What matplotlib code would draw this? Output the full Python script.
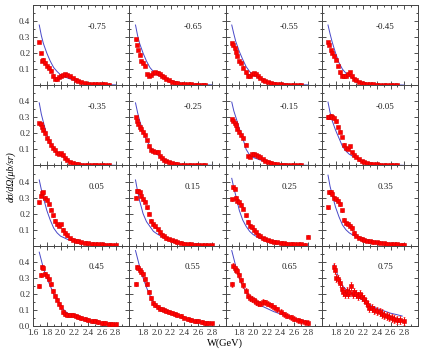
import matplotlib
matplotlib.use("Agg")
import matplotlib.pyplot as plt
from matplotlib.ticker import MultipleLocator

plt.rcParams['font.family'] = ['Liberation Serif', 'DejaVu Serif']

# ---- angle bins (cos theta), one per panel, row by row ----
cos_bins = ['-0.75', '-0.65', '-0.55', '-0.45',
            '-0.35', '-0.25', '-0.15', '-0.05',
            '0.05', '0.15', '0.25', '0.35',
            '0.45', '0.55', '0.65', '0.75']

# ---- W grids (GeV) ----
w_data_a = [1.69, 1.71, 1.73, 1.75, 1.77, 1.80, 1.83, 1.86, 1.89, 1.92, 1.95, 1.98, 2.01, 2.04, 2.07,
            2.10, 2.14, 2.18, 2.22, 2.26, 2.30, 2.35, 2.40, 2.45, 2.50, 2.55, 2.60, 2.65, 2.70]
w_data_b = w_data_a + [2.75, 2.80]
w_data_c = [1.77, 1.79, 1.81, 1.84, 1.86, 1.89, 1.91, 1.94, 1.96, 1.98, 2.00, 2.02, 2.05, 2.07, 2.10,
            2.12, 2.15, 2.19, 2.22, 2.24, 2.27, 2.29, 2.33, 2.36, 2.40, 2.44, 2.48, 2.51, 2.55, 2.58,
            2.62, 2.65, 2.69, 2.73, 2.79]
w_theory = [1.69, 1.72, 1.75, 1.80, 1.85, 1.90, 1.95, 2.00, 2.10, 2.20, 2.30, 2.40, 2.50, 2.60, 2.70, 2.80]
w_theory_c = [1.77, 1.79, 1.85, 1.90, 2.00, 2.10, 2.20, 2.30, 2.40, 2.50, 2.60, 2.70, 2.77]

# ---- measured dsigma/dOmega (mub/sr) ----
d_m75 = [0.27, 0.20, 0.15, 0.16, 0.14, 0.12, 0.11, 0.09, 0.06, 0.04, 0.04, 0.05, 0.06, 0.065, 0.07,
         0.065, 0.055, 0.045, 0.035, 0.026, 0.02, 0.014, 0.01, 0.008, 0.007, 0.006, 0.005, 0.005, 0.004]
d_m65 = [0.285, 0.25, 0.22, 0.19, 0.15, 0.14, 0.12, 0.07, 0.06, 0.065, 0.075, 0.083, 0.078, 0.07, 0.06,
         0.05, 0.04, 0.03, 0.022, 0.016, 0.012, 0.008, 0.006, 0.005, 0.005, 0.004, 0.004, 0.003, 0.003]
d_m55 = [0.26, 0.25, 0.23, 0.21, 0.18, 0.15, 0.14, 0.11, 0.08, 0.06, 0.06, 0.07, 0.077, 0.068, 0.057,
         0.046, 0.035, 0.027, 0.02, 0.014, 0.01, 0.007, 0.005, 0.004, 0.004, 0.003, 0.003, 0.003, 0.002]
d_m45 = [0.27, 0.25, 0.22, 0.20, 0.18, 0.16, 0.12, 0.08, 0.06, 0.055, 0.06, 0.07, 0.08, 0.055, 0.04,
         0.03, 0.022, 0.015, 0.01, 0.008, 0.006, 0.005, 0.004, 0.003, 0.003, 0.002, 0.002, 0.002, 0.002]
d_m35 = [0.265, 0.26, 0.24, 0.22, 0.20, 0.17, 0.15, 0.13, 0.11, 0.094, 0.08, 0.072, 0.077, 0.065, 0.048,
         0.035, 0.022, 0.013, 0.009, 0.007, 0.005, 0.004, 0.004, 0.003, 0.003, 0.003, 0.002, 0.002, 0.002]
d_m25 = [0.30, 0.28, 0.26, 0.24, 0.225, 0.21, 0.19, 0.16, 0.12, 0.095, 0.088, 0.083, 0.087, 0.06, 0.045,
         0.035, 0.026, 0.019, 0.014, 0.01, 0.007, 0.005, 0.004, 0.003, 0.003, 0.003, 0.002, 0.002, 0.002]
d_m15 = [0.29, 0.28, 0.265, 0.25, 0.23, 0.21, 0.19, 0.17, 0.13, 0.06, 0.055, 0.07, 0.07, 0.065, 0.058,
         0.05, 0.04, 0.031, 0.024, 0.017, 0.012, 0.008, 0.006, 0.005, 0.004, 0.003, 0.003, 0.002, 0.002]
d_m05 = [0.30, 0.305, 0.31, 0.305, 0.295, 0.275, 0.24, 0.21, 0.177, 0.13, 0.11, 0.104, 0.12, 0.085, 0.065,
         0.052, 0.038, 0.027, 0.021, 0.016, 0.012, 0.009, 0.007, 0.005, 0.004, 0.004, 0.003, 0.003, 0.002]
d_p05 = [0.27, 0.31, 0.33, 0.333, 0.30, 0.285, 0.26, 0.225, 0.19, 0.156, 0.135, 0.125, 0.135, 0.10, 0.08,
         0.065, 0.046, 0.038, 0.032, 0.027, 0.023, 0.019, 0.016, 0.013, 0.011, 0.009, 0.008, 0.007, 0.006,
         0.005, 0.005]
d_p15 = [0.30, 0.34, 0.34, 0.333, 0.31, 0.29, 0.275, 0.24, 0.20, 0.156, 0.135, 0.12, 0.104, 0.085, 0.07,
         0.06, 0.048, 0.04, 0.033, 0.027, 0.023, 0.018, 0.014, 0.011, 0.009, 0.007, 0.006, 0.005, 0.004,
         0.004, 0.003]
d_p25 = [0.29, 0.365, 0.354, 0.30, 0.28, 0.27, 0.255, 0.23, 0.19, 0.15, 0.125, 0.115, 0.10, 0.083, 0.07,
         0.058, 0.048, 0.04, 0.034, 0.029, 0.025, 0.021, 0.018, 0.015, 0.013, 0.012, 0.01, 0.009, 0.008,
         0.006, 0.056]
d_p35 = [0.24, 0.333, 0.335, 0.32, 0.30, 0.29, 0.28, 0.26, 0.22, 0.16, 0.14, 0.135, 0.125, 0.11, 0.08,
         0.063, 0.05, 0.042, 0.036, 0.032, 0.028, 0.024, 0.021, 0.018, 0.015, 0.012, 0.01, 0.009, 0.008,
         0.007, 0.006]
d_p45 = [0.25, 0.32, 0.37, 0.36, 0.325, 0.31, 0.29, 0.26, 0.22, 0.19, 0.165, 0.14, 0.12, 0.09, 0.075,
         0.068, 0.068, 0.068, 0.063, 0.057, 0.051, 0.045, 0.04, 0.034, 0.029, 0.025, 0.021, 0.018, 0.015,
         0.012, 0.01]
d_p55 = [0.26, 0.366, 0.36, 0.346, 0.335, 0.325, 0.295, 0.26, 0.21, 0.175, 0.145, 0.13, 0.12, 0.109, 0.103,
         0.099, 0.094, 0.088, 0.081, 0.074, 0.067, 0.06, 0.053, 0.046, 0.04, 0.034, 0.029, 0.025, 0.021,
         0.018, 0.016]
d_p65 = [0.26, 0.376, 0.36, 0.35, 0.34, 0.315, 0.284, 0.255, 0.22, 0.19, 0.175, 0.168, 0.16, 0.15, 0.143,
         0.14, 0.15, 0.148, 0.14, 0.13, 0.118, 0.105, 0.09, 0.074, 0.064, 0.055, 0.045, 0.037, 0.03,
         0.024, 0.02]
d_p75 = [0.37, 0.35, 0.30, 0.29, 0.27, 0.23, 0.21, 0.20, 0.22, 0.20, 0.21, 0.25, 0.20, 0.21, 0.20,
         0.19, 0.20, 0.18, 0.17, 0.15, 0.13, 0.115, 0.11, 0.10, 0.095, 0.088, 0.078, 0.068, 0.062, 0.058,
         0.048, 0.041, 0.04, 0.037, 0.032]

# ---- typical error bar per panel ----
err_bins = [0.008, 0.008, 0.007, 0.007, 0.007, 0.007, 0.008, 0.008,
            0.009, 0.009, 0.009, 0.01, 0.012, 0.012, 0.016, 0.025]

# ---- model curves ----
t_m75 = [0.375, 0.31, 0.26, 0.20, 0.15, 0.11, 0.085, 0.065, 0.045, 0.03, 0.018, 0.01, 0.007, 0.005, 0.003, 0.002]
t_m65 = [0.375, 0.31, 0.26, 0.20, 0.15, 0.11, 0.085, 0.065, 0.045, 0.03, 0.018, 0.01, 0.007, 0.005, 0.003, 0.002]
t_m55 = [0.375, 0.32, 0.27, 0.21, 0.16, 0.115, 0.085, 0.065, 0.04, 0.025, 0.015, 0.009, 0.006, 0.004, 0.003, 0.002]
t_m45 = [0.375, 0.32, 0.27, 0.20, 0.14, 0.10, 0.075, 0.055, 0.03, 0.015, 0.009, 0.005, 0.003, 0.002, 0.002, 0.001]
t_m35 = [0.39, 0.32, 0.27, 0.19, 0.145, 0.11, 0.085, 0.065, 0.035, 0.015, 0.008, 0.005, 0.003, 0.002, 0.002, 0.001]
t_m25 = [0.39, 0.33, 0.28, 0.21, 0.16, 0.12, 0.09, 0.07, 0.04, 0.02, 0.01, 0.006, 0.004, 0.003, 0.002, 0.001]
t_m15 = [0.395, 0.34, 0.30, 0.23, 0.17, 0.10, 0.065, 0.05, 0.035, 0.022, 0.012, 0.007, 0.004, 0.003, 0.002, 0.001]
t_m05 = [0.395, 0.33, 0.28, 0.22, 0.17, 0.12, 0.09, 0.07, 0.045, 0.025, 0.013, 0.007, 0.004, 0.003, 0.002, 0.001]
t_p05 = [0.41, 0.35, 0.30, 0.22, 0.16, 0.11, 0.08, 0.06, 0.04, 0.028, 0.02, 0.014, 0.01, 0.007, 0.005, 0.004]
t_p15 = [0.41, 0.34, 0.28, 0.20, 0.15, 0.12, 0.09, 0.075, 0.05, 0.035, 0.025, 0.017, 0.012, 0.008, 0.006, 0.004]
t_p25 = [0.42, 0.36, 0.31, 0.22, 0.16, 0.12, 0.09, 0.07, 0.045, 0.032, 0.023, 0.016, 0.012, 0.009, 0.007, 0.005]
t_p35 = [0.44, 0.37, 0.32, 0.24, 0.18, 0.13, 0.10, 0.08, 0.055, 0.04, 0.03, 0.022, 0.016, 0.012, 0.009, 0.007]
t_p45 = [0.46, 0.41, 0.36, 0.30, 0.25, 0.20, 0.16, 0.12, 0.08, 0.06, 0.045, 0.033, 0.024, 0.017, 0.012, 0.008]
t_p55 = [0.47, 0.42, 0.37, 0.30, 0.24, 0.19, 0.15, 0.12, 0.10, 0.085, 0.068, 0.053, 0.04, 0.03, 0.022, 0.016]
t_p65 = [0.47, 0.42, 0.37, 0.30, 0.25, 0.21, 0.18, 0.16, 0.13, 0.11, 0.09, 0.075, 0.06, 0.047, 0.035, 0.025]
t_p75 = [0.38, 0.36, 0.30, 0.25, 0.21, 0.185, 0.16, 0.13, 0.11, 0.095, 0.08, 0.07, 0.062]

data_sets = [d_m75, d_m65, d_m55, d_m45, d_m35, d_m25, d_m15, d_m05,
             d_p05, d_p15, d_p25, d_p35, d_p45, d_p55, d_p65, d_p75]
theory_sets = [t_m75, t_m65, t_m55, t_m45, t_m35, t_m25, t_m15, t_m05,
               t_p05, t_p15, t_p25, t_p35, t_p45, t_p55, t_p65, t_p75]

fig, axes = plt.subplots(4, 4, figsize=(4.24, 3.54), dpi=100)
fig.subplots_adjust(left=0.078, right=0.986, top=0.986, bottom=0.079, wspace=0, hspace=0)

for k, ax in enumerate(axes.flat):
    row, col = divmod(k, 4)
    d = data_sets[k]
    if k == 15:
        wd, wt = w_data_c, w_theory_c
    elif len(d) == len(w_data_b):
        wd, wt = w_data_b, w_theory
    else:
        wd, wt = w_data_a, w_theory

    ax.plot(wt, theory_sets[k], color='#4848c8', lw=0.7, zorder=2)
    ax.errorbar(wd, d, yerr=err_bins[k], fmt='s', ms=2.6, color='#ff0000',
                mec='#d80000', mew=0.4, ecolor='#ff0000', elinewidth=0.7, capsize=1.0,
                capthick=0.6, zorder=3)

    ax.set_xlim(1.6, 3.0)
    ax.set_ylim(0, 0.5)
    ax.xaxis.set_major_locator(MultipleLocator(0.2))
    ax.xaxis.set_minor_locator(MultipleLocator(0.1))
    ax.yaxis.set_major_locator(MultipleLocator(0.1))
    ax.yaxis.set_minor_locator(MultipleLocator(0.05))
    ax.tick_params(which='major', direction='in', top=True, right=True,
                   length=3, width=0.6, labelsize=6.5, pad=2, colors='#333333')
    ax.tick_params(which='minor', direction='in', top=True, right=True,
                   length=1.6, width=0.5)
    for sp in ax.spines.values():
        sp.set_linewidth(0.7)
        sp.set_color('#444444')

    if col == 0:
        ylabs = ['', '0.1', '0.2', '0.3', '0.4', '']
        if row == 3:
            ylabs[0] = '0.0'
        ax.set_yticks([0.0, 0.1, 0.2, 0.3, 0.4, 0.5])
        ax.set_yticklabels(ylabs)
    else:
        ax.set_yticklabels([])
    if row == 3:
        xt = [1.6, 1.8, 2.0, 2.2, 2.4, 2.6, 2.8, 3.0]
        xlabs = ['1.6', '1.8', '2.0', '2.2', '2.4', '2.6', '2.8', '']
        if col > 0:
            xlabs[0] = ''
        ax.set_xticks(xt)
        ax.set_xticklabels(xlabs)
    else:
        ax.set_xticklabels([])

    ax.text(0.66, 0.73, cos_bins[k], transform=ax.transAxes, fontsize=6.5,
            ha='center', va='center', color='#222222')

fig.text(0.025, 0.5, 'dσ/dΩ(μb/sr)', rotation=90, fontsize=7, ha='center', va='center',
         style='italic')
fig.text(0.53, 0.03, 'W(GeV)', fontsize=7.5, ha='center', va='center')

fig.savefig('out.png', dpi=100)
